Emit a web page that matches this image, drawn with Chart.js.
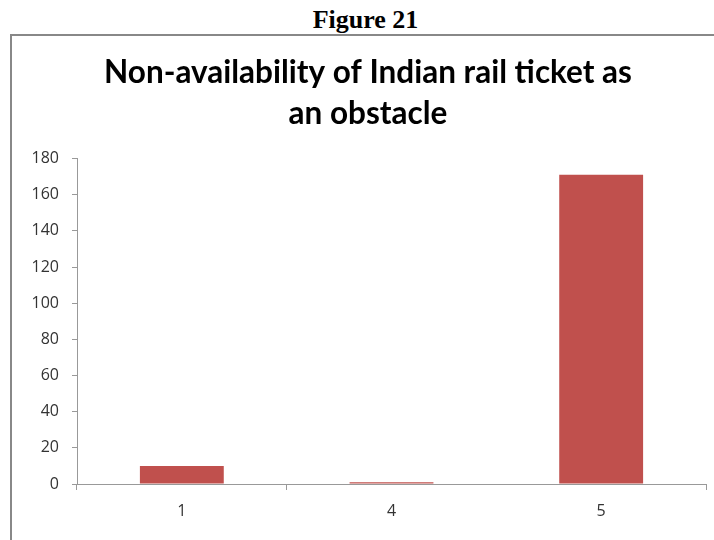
<!DOCTYPE html>
<html>
<head>
<meta charset="utf-8">
<script src="https://cdn.jsdelivr.net/npm/chart.js@4/dist/chart.umd.min.js"></script>
<style>
  html, body { margin: 0; padding: 0; background: #fff; }
  body { width: 714px; height: 540px; position: relative; overflow: hidden; }
  #fig { position: absolute; left: 0; top: 7px; width: 731px; text-align: center;
         font: bold 26px/26px "Liberation Serif", "Times New Roman", serif; color: #000; }
  #box { position: absolute; left: 10px; top: 34px; width: 720px; height: 520px;
         border-left: 2px solid #888; border-top: 2px solid #888; }
  #wrap { position: absolute; left: 11px; top: 35px; width: 703px; height: 505px; }
</style>
</head>
<body>
<div id="fig">Figure 21</div>
<div id="box"></div>
<div id="wrap"><canvas id="chart"></canvas></div>
<script>
const categories = ['1', '4', '5'];
const counts = [10, 1, 171];
const yTicks = {min: 0, max: 180, step: 20};
const titleLines = ['Non-availability of Indian rail ticket as', 'an obstacle'];

const ctx = document.getElementById('chart');
const tickFont = {family: 'Open Sans', size: 16};

new Chart(ctx, {
    type: 'bar',
    data: {
        labels: categories,
        datasets: [
            {label: 'Series1', data: counts, backgroundColor: '#C0504D', barPercentage: .4, categoryPercentage: 1}
        ]
    },
    options: {
        responsive: true,
        maintainAspectRatio: false,
        animation: false,
        // left padding pushes the title centre right, the y axis width takes it back
        layout: {padding: {left: 19, right: 8, top: 0, bottom: 0}},
        scales: {
            x: {
                grid: {drawOnChartArea: false, offset: true, tickLength: 6,
                       color: c => c.index === 2 ? 'transparent' : '#999'},
                border: {color: '#999'},
                ticks: {font: tickFont, color: '#333', padding: 12},
                afterFit: s => { s.height = 56; }
            },
            y: {
                min: yTicks.min, max: yTicks.max,
                grid: {drawOnChartArea: false, tickLength: 5, color: '#999'},
                border: {color: '#999'},
                ticks: {stepSize: yTicks.step, font: tickFont, color: '#333', padding: 13},
                afterFit: s => { s.width = 47; }
            }
        },
        plugins: {
            legend: {display: false},
            tooltip: {enabled: false},
            title: {
                display: true,
                text: titleLines,
                color: '#000',
                font: {family: 'Lato', size: 31.5, weight: 'bold', lineHeight: 1.31},
                padding: {top: 17, bottom: 24}
            }
        }
    }
});
</script>
</body>
</html>
